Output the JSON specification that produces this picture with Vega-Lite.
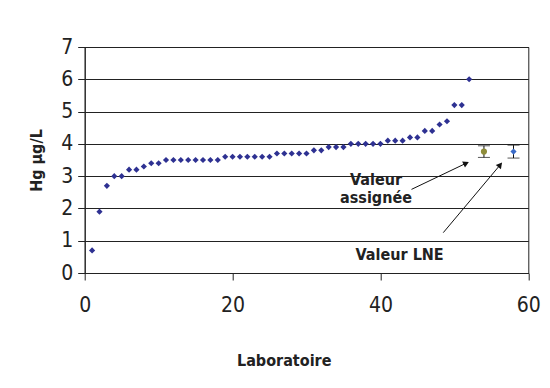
{
  "$schema": "https://vega.github.io/schema/vega-lite/v6.json",
  "width": 443.6,
  "height": 226,
  "autosize": {"type": "none"},
  "padding": {"left": 84.7, "top": 47, "right": 21.7, "bottom": 115},
  "background": "white",
  "config": {
    "view": {"stroke": "#222", "strokeWidth": 1},
    "font": "DejaVu Sans Condensed, Liberation Sans",
    "axis": {
      "labelFont": "DejaVu Sans Condensed, Liberation Sans",
      "labelFontSize": 21,
      "labelColor": "#222",
      "titleFont": "DejaVu Sans Condensed, Liberation Sans",
      "titleFontSize": 16,
      "titleFontWeight": "bold",
      "titleColor": "#222",
      "domainColor": "#222",
      "tickColor": "#222",
      "tickSize": 7,
      "labelOverlap": false
    },
    "axisX": {"grid": false, "labelPadding": 14, "titlePadding": 37, "labelFlush": false, "titleX": 199, "titleAlign": "center"},
    "axisY": {"grid": true, "gridColor": "#222", "gridWidth": 1, "labelPadding": 5, "titlePadding": 16}
  },
  "datasets": {
    "labs": [
      {"lab": 1, "hg": 0.7}, {"lab": 2, "hg": 1.9}, {"lab": 3, "hg": 2.7}, {"lab": 4, "hg": 3.0},
      {"lab": 5, "hg": 3.0}, {"lab": 6, "hg": 3.2}, {"lab": 7, "hg": 3.2}, {"lab": 8, "hg": 3.3},
      {"lab": 9, "hg": 3.4}, {"lab": 10, "hg": 3.4}, {"lab": 11, "hg": 3.5}, {"lab": 12, "hg": 3.5},
      {"lab": 13, "hg": 3.5}, {"lab": 14, "hg": 3.5}, {"lab": 15, "hg": 3.5}, {"lab": 16, "hg": 3.5},
      {"lab": 17, "hg": 3.5}, {"lab": 18, "hg": 3.5}, {"lab": 19, "hg": 3.6}, {"lab": 20, "hg": 3.6},
      {"lab": 21, "hg": 3.6}, {"lab": 22, "hg": 3.6}, {"lab": 23, "hg": 3.6}, {"lab": 24, "hg": 3.6},
      {"lab": 25, "hg": 3.6}, {"lab": 26, "hg": 3.7}, {"lab": 27, "hg": 3.7}, {"lab": 28, "hg": 3.7},
      {"lab": 29, "hg": 3.7}, {"lab": 30, "hg": 3.7}, {"lab": 31, "hg": 3.8}, {"lab": 32, "hg": 3.8},
      {"lab": 33, "hg": 3.9}, {"lab": 34, "hg": 3.9}, {"lab": 35, "hg": 3.9}, {"lab": 36, "hg": 4.0},
      {"lab": 37, "hg": 4.0}, {"lab": 38, "hg": 4.0}, {"lab": 39, "hg": 4.0}, {"lab": 40, "hg": 4.0},
      {"lab": 41, "hg": 4.1}, {"lab": 42, "hg": 4.1}, {"lab": 43, "hg": 4.1}, {"lab": 44, "hg": 4.2},
      {"lab": 45, "hg": 4.2}, {"lab": 46, "hg": 4.4}, {"lab": 47, "hg": 4.4}, {"lab": 48, "hg": 4.6},
      {"lab": 49, "hg": 4.7}, {"lab": 50, "hg": 5.2}, {"lab": 51, "hg": 5.2}, {"lab": 52, "hg": 6.0}
    ],
    "refs": [
      {"lab": 54, "hg": 3.76, "low": 3.58, "high": 3.94, "kind": "Valeur assignée"},
      {"lab": 58, "hg": 3.76, "low": 3.56, "high": 3.96, "kind": "Valeur LNE"}
    ],
    "notes": [
      {"text": "Valeur", "x": 39.4, "y": 2.73},
      {"text": "assignée", "x": 39.4, "y": 2.17},
      {"text": "Valeur LNE", "x": 42.6, "y": 0.4}
    ],
    "arrows": [
      {"arrow": "a", "x": 44.2, "y": 2.59, "x2": 51.6, "y2": 3.4},
      {"arrow": "b", "x": 48.5, "y": 1.25, "x2": 56.2, "y2": 3.35}
    ]
  },
  "layer": [
    {
      "data": {"name": "labs"},
      "mark": {"type": "point", "shape": "diamond", "filled": true, "size": 38, "color": "#2E3192", "opacity": 1},
      "encoding": {
        "x": {
          "field": "lab", "type": "quantitative", "title": "Laboratoire",
          "scale": {"domain": [0, 60], "nice": false, "zero": true},
          "axis": {"values": [0, 20, 40, 60]}
        },
        "y": {
          "field": "hg", "type": "quantitative", "title": "Hg µg/L",
          "scale": {"domain": [0, 7], "nice": false},
          "axis": {"values": [0, 1, 2, 3, 4, 5, 6, 7]}
        }
      }
    },
    {
      "data": {"name": "refs"},
      "mark": {"type": "errorbar", "color": "#111", "ticks": {"size": 12, "color": "#111"}},
      "encoding": {
        "x": {"field": "lab", "type": "quantitative", "title": "Laboratoire", "axis": {"values": [0, 20, 40, 60]}},
        "y": {"field": "low", "type": "quantitative", "title": "Hg µg/L", "axis": {"values": [0, 1, 2, 3, 4, 5, 6, 7]}},
        "y2": {"field": "high"}
      }
    },
    {
      "data": {"name": "refs"},
      "mark": {"type": "point", "filled": true, "size": 38, "opacity": 1},
      "encoding": {
        "x": {"field": "lab", "type": "quantitative", "title": "Laboratoire", "axis": {"values": [0, 20, 40, 60]}},
        "y": {"field": "hg", "type": "quantitative", "title": "Hg µg/L", "axis": {"values": [0, 1, 2, 3, 4, 5, 6, 7]}},
        "shape": {"field": "kind", "type": "nominal", "scale": {"domain": ["Valeur assignée", "Valeur LNE"], "range": ["circle", "diamond"]}, "legend": null},
        "color": {"field": "kind", "type": "nominal", "scale": {"domain": ["Valeur assignée", "Valeur LNE"], "range": ["#8E8C3A", "#3A6BC8"]}, "legend": null}
      }
    },
    {
      "data": {"name": "arrows"},
      "mark": {"type": "rule", "color": "#111", "strokeWidth": 1},
      "encoding": {
        "x": {"field": "x", "type": "quantitative", "title": "Laboratoire", "axis": {"values": [0, 20, 40, 60]}},
        "y": {"field": "y", "type": "quantitative", "title": "Hg µg/L", "axis": {"values": [0, 1, 2, 3, 4, 5, 6, 7]}},
        "x2": {"field": "x2"},
        "y2": {"field": "y2"}
      }
    },
    {
      "data": {"name": "arrows"},
      "transform": [{"filter": "datum.arrow == 'a'"}],
      "mark": {"type": "point", "shape": "triangle-up", "filled": true, "size": 45, "color": "#111", "opacity": 1, "angle": 65},
      "encoding": {
        "x": {"field": "x2", "type": "quantitative", "title": "Laboratoire", "axis": {"values": [0, 20, 40, 60]}},
        "y": {"field": "y2", "type": "quantitative", "title": "Hg µg/L", "axis": {"values": [0, 1, 2, 3, 4, 5, 6, 7]}}
      }
    },
    {
      "data": {"name": "arrows"},
      "transform": [{"filter": "datum.arrow == 'b'"}],
      "mark": {"type": "point", "shape": "triangle-up", "filled": true, "size": 45, "color": "#111", "opacity": 1, "angle": 40},
      "encoding": {
        "x": {"field": "x2", "type": "quantitative", "title": "Laboratoire", "axis": {"values": [0, 20, 40, 60]}},
        "y": {"field": "y2", "type": "quantitative", "title": "Hg µg/L", "axis": {"values": [0, 1, 2, 3, 4, 5, 6, 7]}}
      }
    },
    {
      "data": {"name": "notes"},
      "mark": {"type": "text", "font": "DejaVu Sans Condensed, Liberation Sans", "fontWeight": "bold", "fontSize": 16, "color": "#222", "align": "center", "baseline": "alphabetic"},
      "encoding": {
        "x": {"field": "x", "type": "quantitative", "title": "Laboratoire", "axis": {"values": [0, 20, 40, 60]}},
        "y": {"field": "y", "type": "quantitative", "title": "Hg µg/L", "axis": {"values": [0, 1, 2, 3, 4, 5, 6, 7]}},
        "text": {"field": "text"}
      }
    }
  ]
}
